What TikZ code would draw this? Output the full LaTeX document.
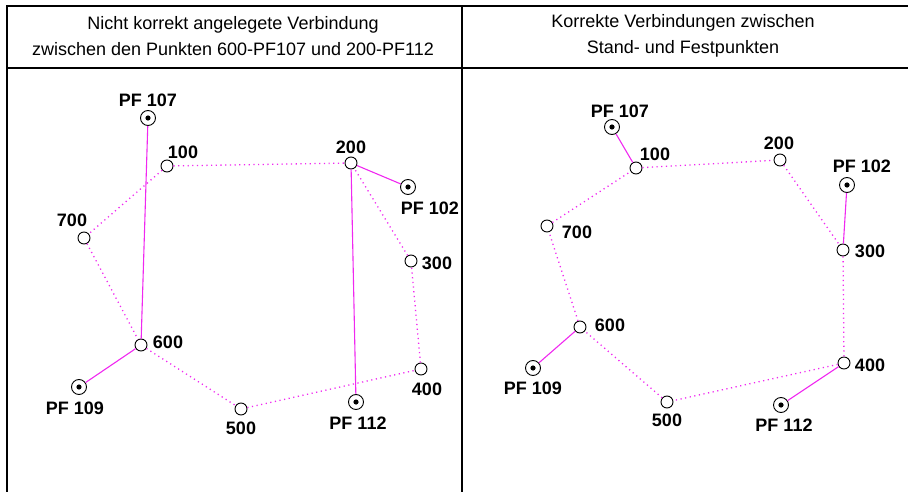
\documentclass[tikz,border=0pt]{standalone}
\usepackage{fontspec}
\setmainfont{Liberation Sans}
\definecolor{mag}{RGB}{240,40,240}
\begin{document}
\begin{tikzpicture}[x=1pt,y=-1pt,
  sp/.style={circle,draw=black,line width=0.9pt,fill=white,minimum size=12pt,inner sep=0pt},
  fp/.style={circle,draw=black,line width=0.9pt,fill=white,minimum size=15pt,inner sep=0pt,
    path picture={\fill[black] (path picture bounding box.center) circle (2.6pt);}},
  lbl/.style={font=\bfseries\fontsize{18}{20}\selectfont,inner sep=0pt},
  ttl/.style={font=\fontsize{18}{26}\selectfont,align=center,inner sep=0pt},
  con/.style={draw=mag,line width=1.1pt},
  dot/.style={draw=mag,line width=1.3pt,dash pattern=on 1.2pt off 3.5pt},
  frm/.style={draw=black,line width=1.2pt}]
\useasboundingbox (0,0) rectangle (908,492);
% frame
\coordinate (fbl) at (7,492);
\coordinate (ftl) at (7,6);
\coordinate (ftr) at (908,6);
\coordinate (fml) at (7,68);
\coordinate (fmr) at (908,68);
\coordinate (fdt) at (462,6);
\coordinate (fdb) at (462,492);
\draw[frm] (fbl) -- (ftl) -- (ftr);
\draw[frm] (fml) -- (fmr);
\draw[frm] (fdt) -- (fdb);
% titles
\node[ttl] (t1) at (233,36) {Nicht korrekt angelegete Verbindung\\zwischen den Punkten 600-PF107 und 200-PF112};
\node[ttl] (t2) at (683,36) {Korrekte Verbindungen zwischen\\Stand- und Festpunkten};
% ---------- left panel
\node[fp] (a107) at (148,118) {};
\node[sp] (a100) at (167,166) {};
\node[sp] (a200) at (351,163) {};
\node[fp] (a102) at (408,187) {};
\node[sp] (a700) at (84,238) {};
\node[sp] (a300) at (411,261) {};
\node[sp] (a600) at (141,345) {};
\node[fp] (a109) at (79,387) {};
\node[sp] (a500) at (241,409) {};
\node[fp] (a112) at (356,402) {};
\node[sp] (a400) at (421,369) {};
\node[lbl] (la107) at (148,100) {PF 107};
\node[lbl] (la100) at (183,152) {100};
\node[lbl] (la200) at (351,147) {200};
\node[lbl] (la102) at (430,208) {PF 102};
\node[lbl] (la700) at (72,220) {700};
\node[lbl] (la300) at (437,263) {300};
\node[lbl] (la600) at (168,342) {600};
\node[lbl] (la109) at (75,408) {PF 109};
\node[lbl] (la500) at (241,428) {500};
\node[lbl] (la112) at (358,423) {PF 112};
\node[lbl] (la400) at (427,389) {400};
\draw[dot] (a100) -- (a200);
\draw[dot] (a100) -- (a700);
\draw[dot] (a700) -- (a600);
\draw[dot] (a600) -- (a500);
\draw[dot] (a500) -- (a400);
\draw[dot] (a400) -- (a300);
\draw[dot] (a300) -- (a200);
\draw[con] (a107) -- (a600);
\draw[con] (a200) -- (a112);
\draw[con] (a200) -- (a102);
\draw[con] (a600) -- (a109);
% ---------- right panel
\node[fp] (b107) at (612,127) {};
\node[sp] (b100) at (636,168) {};
\node[sp] (b200) at (780,160) {};
\node[fp] (b102) at (847,185) {};
\node[sp] (b700) at (547,226) {};
\node[sp] (b300) at (843,250) {};
\node[sp] (b600) at (580,327) {};
\node[fp] (b109) at (533,368) {};
\node[sp] (b500) at (667,402) {};
\node[fp] (b112) at (781,405) {};
\node[sp] (b400) at (844,363) {};
\node[lbl] (lb107) at (620,111) {PF 107};
\node[lbl] (lb100) at (655,154) {100};
\node[lbl] (lb200) at (779,143) {200};
\node[lbl] (lb102) at (862,166) {PF 102};
\node[lbl] (lb700) at (577,232) {700};
\node[lbl] (lb300) at (870,251) {300};
\node[lbl] (lb600) at (610,325) {600};
\node[lbl] (lb109) at (533,388) {PF 109};
\node[lbl] (lb500) at (667,420) {500};
\node[lbl] (lb112) at (784,425) {PF 112};
\node[lbl] (lb400) at (870,365) {400};
\draw[dot] (b100) -- (b200);
\draw[dot] (b200) -- (b300);
\draw[dot] (b300) -- (b400);
\draw[dot] (b400) -- (b500);
\draw[dot] (b500) -- (b600);
\draw[dot] (b600) -- (b700);
\draw[dot] (b700) -- (b100);
\draw[con] (b107) -- (b100);
\draw[con] (b102) -- (b300);
\draw[con] (b600) -- (b109);
\draw[con] (b400) -- (b112);
\end{tikzpicture}
\end{document}
